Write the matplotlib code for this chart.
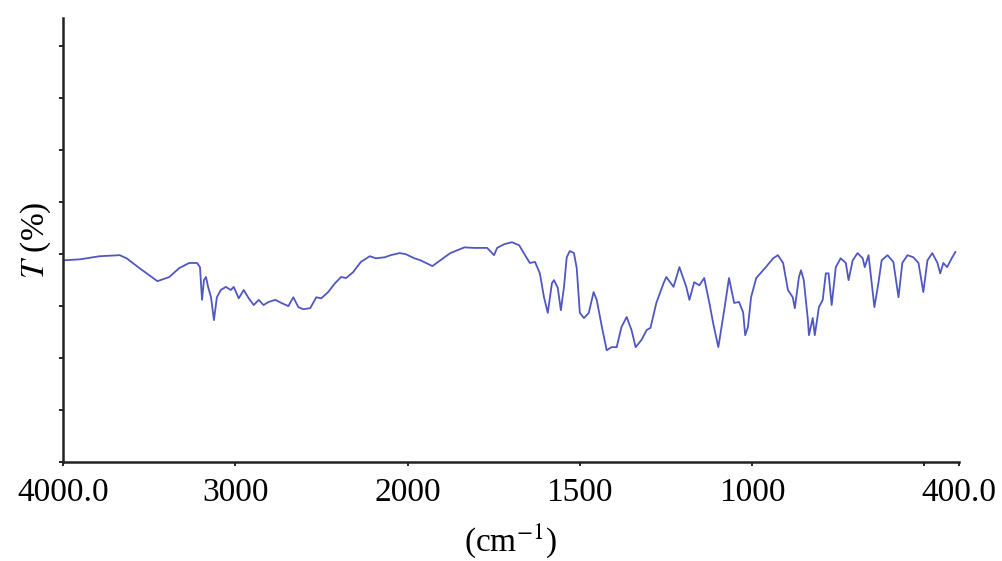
import matplotlib
matplotlib.use("Agg")
import matplotlib.pyplot as plt
import numpy as np

# wavenumber (cm-1) and transmittance (arbitrary %)
wavenumber = [4000, 3902, 3787, 3671, 3631, 3556, 3452, 3383, 3326, 3268,
              3222, 3205, 3193, 3182, 3170, 3158, 3141, 3124, 3107, 3084,
              3055, 3026, 3009, 2980, 2951, 2922, 2893, 2864, 2836, 2807,
              2767, 2732, 2692, 2663, 2634, 2605, 2565, 2530, 2501, 2461,
              2421, 2386, 2357, 2317, 2271, 2219, 2184, 2132, 2098, 2046,
              2011, 1980, 1962, 1928, 1905, 1876, 1835, 1806, 1769, 1749,
              1740, 1720, 1697, 1676, 1659, 1645, 1630, 1616, 1604, 1593,
              1581, 1575, 1564, 1555, 1546, 1538, 1529, 1517, 1509, 1500,
              1488, 1474, 1460, 1451, 1436, 1422, 1408, 1393, 1379, 1364,
              1350, 1338, 1321, 1306, 1295, 1278, 1257, 1249, 1228, 1211,
              1191, 1182, 1168, 1153, 1139, 1124, 1113, 1098, 1081, 1067,
              1052, 1038, 1026, 1020, 1012, 1003, 988, 960, 939, 925,
              910, 896, 882, 876, 864, 858, 850, 838, 835, 824,
              818, 806, 795, 786, 778, 769, 757, 743, 728, 720,
              708, 694, 679, 673, 662, 645, 633, 624, 607, 590,
              575, 564, 549, 532, 517, 503, 491, 477, 462, 454,
              445, 434, 419, 410]
transmittance = [38.8, 39.0, 39.6, 39.8, 39.2, 37.3, 34.8, 35.6, 37.3, 38.3,
                 38.3, 37.5, 31.2, 35.0, 35.6, 33.7, 31.7, 27.3, 31.7, 33.1,
                 33.7, 33.1, 33.7, 31.5, 33.1, 31.5, 30.2, 31.2, 30.2, 30.8,
                 31.2, 30.6, 30.0, 31.7, 29.8, 29.4, 29.6, 31.7, 31.5, 32.7,
                 34.4, 35.6, 35.4, 36.5, 38.5, 39.6, 39.2, 39.4, 39.8, 40.2,
                 40.0, 39.2, 38.8, 37.7, 38.8, 40.2, 41.3, 41.2, 41.2, 39.8,
                 41.2, 41.9, 42.3, 41.7, 39.8, 38.3, 38.5, 36.3, 31.7, 28.7,
                 34.4, 35.0, 33.5, 29.2, 33.7, 39.4, 40.6, 40.2, 37.3, 28.7,
                 27.7, 28.7, 32.7, 31.2, 26.0, 21.5, 22.1, 22.1, 26.0, 27.9,
                 25.4, 22.1, 23.5, 25.4, 25.8, 30.6, 34.4, 35.6, 33.7, 37.5,
                 33.7, 31.2, 34.6, 34.0, 35.4, 30.6, 26.7, 22.1, 29.2, 35.4,
                 30.6, 30.8, 28.8, 24.4, 26.0, 31.7, 35.4, 37.5, 39.2, 39.8,
                 38.3, 33.1, 31.7, 29.6, 35.6, 36.9, 35.0, 27.3, 24.4, 27.7,
                 24.4, 29.8, 31.2, 36.3, 36.3, 30.2, 37.5, 39.2, 38.3, 35.0,
                 38.8, 40.2, 39.2, 37.5, 39.8, 29.8, 34.6, 38.8, 39.8, 38.5,
                 31.7, 38.3, 39.8, 39.4, 38.3, 32.7, 38.8, 40.2, 38.3, 36.3,
                 38.3, 37.5, 39.4, 40.4]

tick_positions = [4000, 3000, 2000, 1500, 1000, 500, 400]
tick_labels = ["4000.0", "3000", "2000", "1500", "1000", "", "400.0"]


# half scale above 2000 cm-1, as on the instrument printout
def forward(w):
    w = np.asarray(w, dtype=float)
    return np.where(w >= 2000, w / 2.0, w - 1000.0)


def inverse(p):
    p = np.asarray(p, dtype=float)
    return np.where(p >= 1000, p * 2.0, p + 1000.0)


plt.rcParams["font.family"] = ["Liberation Serif", "DejaVu Serif"]
plt.rcParams["mathtext.fontset"] = "stix"

fig = plt.figure(figsize=(10.02, 5.61), dpi=100)
ax = fig.add_axes([0.0629, 0.1765, 0.894, 0.791])

ax.plot(wavenumber, transmittance, color="#5157c2", linewidth=1.3)

ax.set_xscale("function", functions=(forward, inverse))
ax.set_xlim(4000, 400)
ax.set_ylim(0, 85.4)

ax.set_xticks(tick_positions)
ax.set_xticklabels(tick_labels)
ax.xaxis.set_minor_locator(matplotlib.ticker.NullLocator())
ax.set_yticks(np.arange(0, 81, 10))
ax.set_yticklabels([])

for side in ["top", "right"]:
    ax.spines[side].set_visible(False)
for side in ["left", "bottom"]:
    ax.spines[side].set_linewidth(1.8)
    ax.spines[side].set_color("#222222")

ax.tick_params(axis="x", direction="out", length=3, width=1.2, labelsize=24, pad=8)
ax.tick_params(axis="y", direction="out", length=3, width=1.2)

ax.set_xlabel(r"(cm$^{-1}$)", fontsize=24, labelpad=10)
ax.set_ylabel(r"$T$ (%)", fontsize=24, labelpad=1)

fig.savefig("out.png", dpi=100, facecolor="white")
